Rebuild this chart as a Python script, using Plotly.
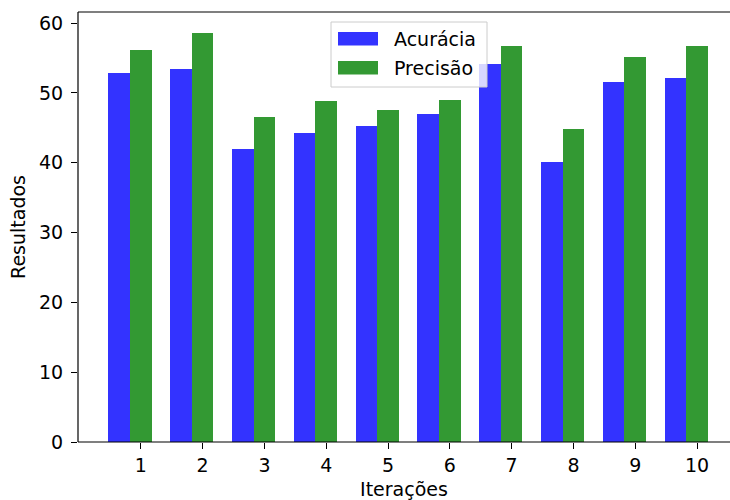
import numpy as np
import plotly.graph_objects as go

# Results per iteration
iteracoes = ["1", "2", "3", "4", "5", "6", "7", "8", "9", "10"]
acuracia = [52.8, 53.5, 42.0, 44.2, 45.2, 47.0, 54.1, 40.1, 51.6, 52.2]
precisao = [56.1, 58.6, 46.5, 48.8, 47.5, 49.0, 56.8, 44.8, 55.2, 56.8]

largura = 0.35
pos = np.arange(len(iteracoes))

AZUL = "rgba(0,0,255,0.8)"
VERDE = "rgba(0,128,0,0.8)"
FONT = "DejaVu Sans"
FS = 19

W, H = 730, 500
L, R, T, B = 78, 0, 12, 58
PW, PH = W - L - R, H - T - B


def px_x(x):
    return (x - L) / PW


def px_y(y):
    return (H - B - y) / PH


fig = go.Figure()
fig.add_trace(go.Bar(x=pos, y=acuracia, width=largura, marker=dict(color=AZUL, line=dict(width=0)),
                     name="Acurácia", showlegend=False))
fig.add_trace(go.Bar(x=pos + largura, y=precisao, width=largura, marker=dict(color=VERDE, line=dict(width=0)),
                     name="Precisão", showlegend=False))

spine = dict(color="black", width=1.2)
shapes = [
    # top, bottom and left spines
    dict(type="line", xref="paper", yref="paper", x0=0, x1=1.01, y0=1, y1=1, line=spine, layer="above"),
    dict(type="line", xref="paper", yref="paper", x0=0, x1=1.01, y0=0, y1=0, line=spine, layer="above"),
    dict(type="line", xref="paper", yref="paper", x0=0, x1=0, y0=0, y1=1, line=spine, layer="above"),
    # legend box drawn in paper coordinates
    dict(type="rect", xref="paper", yref="paper",
         x0=px_x(331), x1=px_x(487), y0=px_y(87), y1=px_y(22),
         line=dict(color="#cccccc", width=1), fillcolor="rgba(255,255,255,0.8)", layer="above"),
    dict(type="rect", xref="paper", yref="paper",
         x0=px_x(338), x1=px_x(378), y0=px_y(45.5), y1=px_y(32),
         line=dict(width=0), fillcolor=AZUL, layer="above"),
    dict(type="rect", xref="paper", yref="paper",
         x0=px_x(338), x1=px_x(378), y0=px_y(74.5), y1=px_y(61),
         line=dict(width=0), fillcolor=VERDE, layer="above"),
]
annotations = [
    dict(text="Acurácia", xref="paper", yref="paper", x=px_x(392), y=px_y(39),
         xanchor="left", yanchor="middle", showarrow=False, font=dict(family=FONT, size=FS, color="black")),
    dict(text="Precisão", xref="paper", yref="paper", x=px_x(392), y=px_y(68),
         xanchor="left", yanchor="middle", showarrow=False, font=dict(family=FONT, size=FS, color="black")),
]

fig.update_layout(
    width=W, height=H,
    margin=dict(l=L, r=R, t=T, b=B, pad=0),
    plot_bgcolor="white", paper_bgcolor="white",
    font=dict(family=FONT, size=FS, color="black"),
    shapes=shapes, annotations=annotations,
    bargap=0,
    dragmode=False,
)
fig.update_xaxes(
    range=[-0.667, 9.883],
    tickvals=pos + largura, ticktext=iteracoes,
    showgrid=False, zeroline=False, automargin=False,
    showline=False,
    ticks="outside", ticklen=6, tickwidth=1, tickcolor="black",
    title=dict(text="Iterações", standoff=14, font=dict(family=FONT, size=FS)),
)
fig.update_yaxes(
    range=[0, 61.6],
    tickvals=[0, 10, 20, 30, 40, 50, 60],
    showgrid=False, zeroline=False, automargin=False,
    showline=False,
    ticks="outside", ticklen=6, tickwidth=1, tickcolor="black",
    ticklabelstandoff=4,
    title=dict(text="Resultados", standoff=8, font=dict(family=FONT, size=FS)),
)

fig.write_html("out.html", config={"displayModeBar": False})
